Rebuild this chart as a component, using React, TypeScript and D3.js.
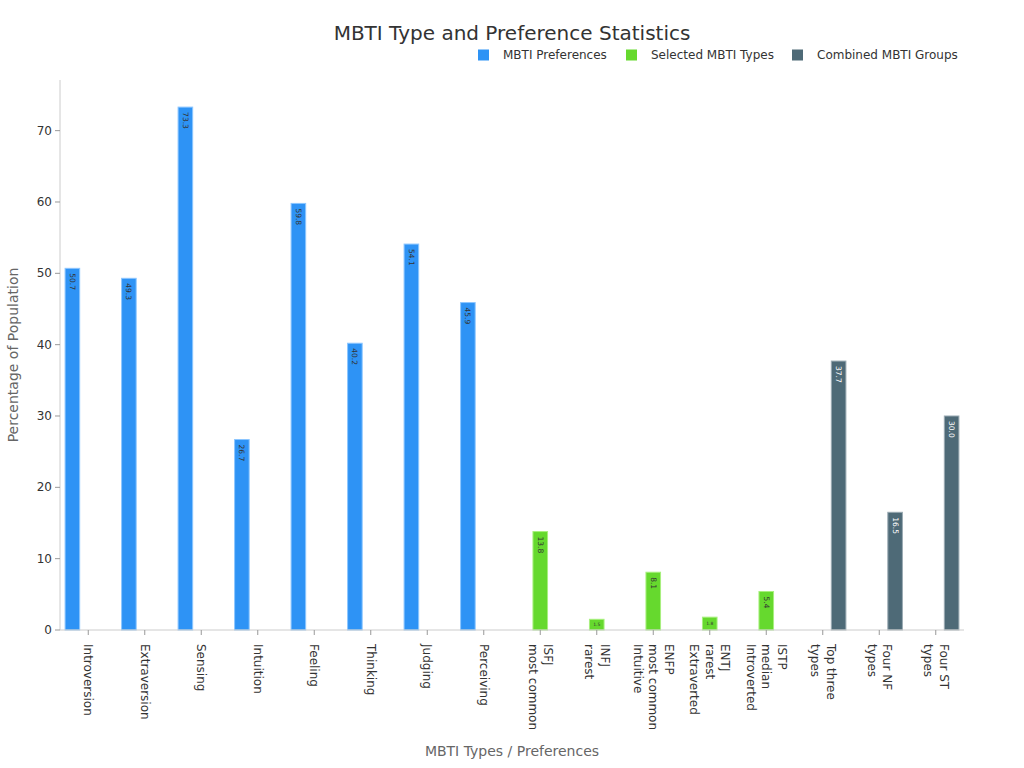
import React, { useEffect } from "react";
import * as d3 from "d3";

const categories: string[][] = [
  ["Introversion"],
  ["Extraversion"],
  ["Sensing"],
  ["Intuition"],
  ["Feeling"],
  ["Thinking"],
  ["Judging"],
  ["Perceiving"],
  ["ISFJ", "most common"],
  ["INFJ", "rarest"],
  ["ENFP", "most common", "Intuitive"],
  ["ENTJ", "rarest", "Extraverted"],
  ["ISTP", "median", "Introverted"],
  ["Top three", "types"],
  ["Four NF", "types"],
  ["Four ST", "types"],
];

const seriesNames = ["MBTI Preferences", "Selected MBTI Types", "Combined MBTI Groups"];
const seriesColors = ["#2e93f5", "#66d92e", "#4e6a77"];
const seriesStroke = ["#8cc6ff", "#a8f07e", "#9aaab2"];

// which series each category belongs to
const seriesIndex = [0, 0, 0, 0, 0, 0, 0, 0, 1, 1, 1, 1, 1, 2, 2, 2];
const values = [50.7, 49.3, 73.3, 26.7, 59.8, 40.2, 54.1, 45.9, 13.8, 1.5, 8.1, 1.8, 5.4, 37.7, 16.5, 30.0];

const yTicks = [0, 10, 20, 30, 40, 50, 60, 70];

const W = 1024;
const H = 768;
const margin = { top: 80, right: 60, bottom: 138, left: 60 };
const font = "DejaVu Sans, sans-serif";

export default function App() {
  useEffect(() => {
    document.body.style.margin = "0";
  }, []);

  const x0 = d3
    .scaleBand<number>()
    .domain(d3.range(categories.length))
    .range([margin.left, W - margin.right])
    .paddingInner(0.18)
    .paddingOuter(0.09);

  const x1 = d3
    .scaleBand<number>()
    .domain([0, 1, 2])
    .range([0, x0.bandwidth()])
    .paddingInner(0.08);

  const y = d3
    .scaleLinear()
    .domain([0, 77.1])
    .range([H - margin.bottom, margin.top]);

  const y0 = y(0);

  return (
    <svg width={W} height={H} style={{ display: "block", fontFamily: font }}>
      <rect width={W} height={H} fill="#fff" />
      <text x={W / 2} y={40} textAnchor="middle" fontSize={20} fill="#333">
        MBTI Type and Preference Statistics
      </text>

      {/* legend */}
      {seriesNames.map((name, i) => {
        const lx = [478, 626, 792][i];
        return (
          <g key={name} transform={`translate(${lx},55)`}>
            <rect x={0} y={-5.5} width={11} height={11} fill={seriesColors[i]} />
            <text x={25} y={0} dominantBaseline="central" fontSize={12} fill="#333">
              {name}
            </text>
          </g>
        );
      })}

      {/* y axis */}
      <line x1={margin.left} x2={margin.left} y1={margin.top} y2={y0} stroke="#ccc" />
      {yTicks.map((t) => (
        <g key={t} transform={`translate(${margin.left},${y(t)})`}>
          <line x1={-5} x2={0} stroke="#999" />
          <text x={-8} dominantBaseline="central" textAnchor="end" fontSize={12} fill="#333">
            {t}
          </text>
        </g>
      ))}
      <text
        transform={`translate(18,${(margin.top + y0) / 2}) rotate(-90)`}
        textAnchor="middle"
        fontSize={14}
        fill="#666"
      >
        Percentage of Population
      </text>

      {/* bars */}
      {values.map((v, i) => {
        const s = seriesIndex[i];
        const bx = (x0(i) ?? 0) + (x1(s) ?? 0);
        const bw = x1.bandwidth();
        const top = y(v);
        const h = y0 - top;
        const cx = bx + bw / 2;
        const labelFill = s === 2 ? "#fff" : "#333";
        return (
          <g key={i}>
            <rect x={bx} y={top} width={bw} height={h} fill={seriesColors[s]} stroke={seriesStroke[s]} strokeWidth={1} />
            {h > 20 ? (
              <text
                transform={`translate(${cx},${top + 5}) rotate(90)`}
                dominantBaseline="central"
                fontSize={7.5}
                fill={labelFill}
              >
                {v.toFixed(1)}
              </text>
            ) : (
              <text x={cx} y={top + h / 2} textAnchor="middle" dominantBaseline="central" fontSize={4.5} fill={labelFill}>
                {v.toFixed(1)}
              </text>
            )}
          </g>
        );
      })}

      {/* x axis */}
      <line x1={margin.left} x2={W - margin.right} y1={y0} y2={y0} stroke="#ccc" />
      {categories.map((lines, i) => {
        const tx = (x0(i) ?? 0) + x0.bandwidth() / 2;
        const n = lines.length;
        return (
          <g key={i} transform={`translate(${tx},${y0})`}>
            <line y1={0} y2={5} stroke="#999" />
            <g transform="translate(0,14) rotate(90)">
              {lines.map((ln, j) => (
                <text key={j} x={0} y={(j - (n - 1) / 2) * 15.5} dominantBaseline="central" fontSize={12} fill="#333">
                  {ln}
                </text>
              ))}
            </g>
          </g>
        );
      })}
      <text x={W / 2} y={756} textAnchor="middle" fontSize={14} fill="#666">
        MBTI Types / Preferences
      </text>
    </svg>
  );
}
